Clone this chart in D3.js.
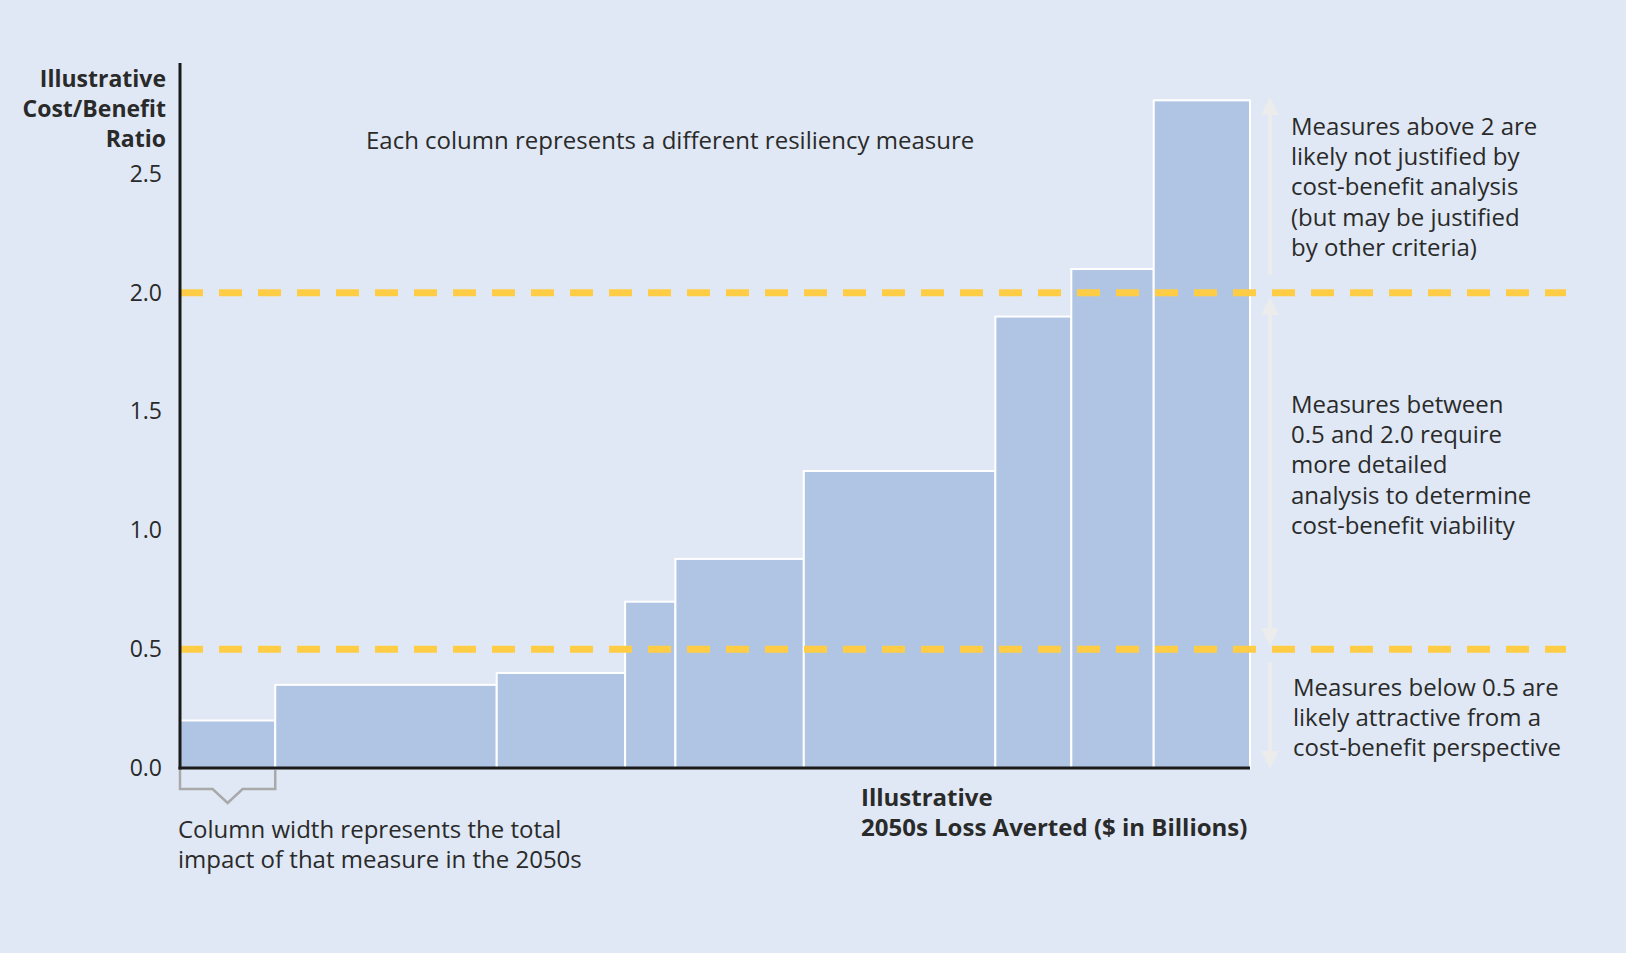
<!DOCTYPE html>
<html>
<head>
<meta charset="utf-8">
<script src="https://cdn.jsdelivr.net/npm/d3@7"></script>
<style>
  body { margin: 0; background: #dfe8f4; }
  svg { display: block; }
  text { font-family: "Open Sans", "Noto Sans", sans-serif; fill: #2a2a2a; }
</style>
</head>
<body>
<div id="chart"></div>
<script>
// column widths (illustrative loss averted) and cost/benefit ratios
let measureWidths = [0.89, 2.07, 1.20, 0.47, 1.20, 1.79, 0.71, 0.77, 0.90];
let ratios = [0.20, 0.35, 0.40, 0.70, 0.88, 1.25, 1.90, 2.10, 2.81];
let yTicks = [0.0, 0.5, 1.0, 1.5, 2.0, 2.5];
let thresholds = [0.5, 2.0];

let yTitle = ["Illustrative", "Cost/Benefit", "Ratio"];
let xTitle = ["Illustrative", "2050s Loss Averted ($ in Billions)"];
let topNote = "Each column represents a different resiliency measure";
let widthNote = ["Column width represents the total", "impact of that measure in the 2050s"];
let aboveNote = ["Measures above 2 are", "likely not justified by", "cost-benefit analysis", "(but may be justified", "by other criteria)"];
let betweenNote = ["Measures between", "0.5 and 2.0 require", "more detailed", "analysis to determine", "cost-benefit viability"];
let belowNote = ["Measures below 0.5 are", "likely attractive from a", "cost-benefit perspective"];

let width = 1626;
let height = 953;
let fontSize = "24px";

let svg = d3.select("#chart")
    .append("svg")
    .attr("width", width)
    .attr("height", height);

svg.append("rect")
    .attr("width", width)
    .attr("height", height)
    .attr("fill", "#dfe8f4");

// cumulative column edges
let edges = [0];
for (let i = 0; i < measureWidths.length; ++i) {
    edges.push(edges[i] + measureWidths[i]);
}
let bars = ratios.map((r, i) => ({ x0: edges[i], x1: edges[i + 1], r: r }));

let x = d3.scaleLinear()
    .domain([0, edges[edges.length - 1]])
    .range([180, 1250]);

let y = d3.scaleLinear()
    .domain([0, 2.5])
    .range([768, 174]);

// columns
svg.selectAll(".bar")
    .data(bars)
    .enter().append("rect")
    .attr("class", "bar")
    .attr("x", d => x(d.x0))
    .attr("y", d => y(d.r))
    .attr("width", d => x(d.x1) - x(d.x0))
    .attr("height", d => y(0) - y(d.r))
    .attr("fill", "#b0c5e4")
    .attr("stroke", "#ffffff")
    .attr("stroke-width", 2);

// threshold lines
svg.selectAll(".threshold")
    .data(thresholds)
    .enter().append("line")
    .attr("class", "threshold")
    .attr("x1", x(0))
    .attr("x2", 1566)
    .attr("y1", d => y(d))
    .attr("y2", d => y(d))
    .attr("stroke", "#ffcd45")
    .attr("stroke-width", 7)
    .attr("stroke-dasharray", "23,16");

// y axis labels
let yAxis = d3.axisLeft(y)
    .tickValues(yTicks)
    .tickSize(0)
    .tickPadding(18)
    .tickFormat(d3.format(".1f"));

let gy = svg.append("g")
    .attr("transform", "translate(" + x(0) + ",0)")
    .call(yAxis);
gy.select(".domain").remove();
gy.selectAll("text")
    .style("font-size", "23px")
    .style("font-family", "'Open Sans', sans-serif")
    .attr("fill", "#2a2a2a");

// axis lines
svg.append("line")
    .attr("x1", x(0)).attr("x2", x(0))
    .attr("y1", 63).attr("y2", y(0) + 1.5)
    .attr("stroke", "#1a1a1a").attr("stroke-width", 3);
svg.append("line")
    .attr("x1", x(0) - 1.5).attr("x2", x(edges[edges.length - 1]))
    .attr("y1", y(0)).attr("y2", y(0))
    .attr("stroke", "#1a1a1a").attr("stroke-width", 3);

// y title
svg.append("text")
    .attr("text-anchor", "end")
    .style("font-size", "23px")
    .style("font-weight", "bold")
    .selectAll("tspan")
    .data(yTitle)
    .enter().append("tspan")
    .attr("x", 166)
    .attr("y", (d, i) => 87 + i * 30)
    .text(d => d);

// top note
svg.append("text")
    .attr("x", 366)
    .attr("y", 149)
    .style("font-size", fontSize)
    .text(topNote);

// bracket under first column
let bx0 = x(edges[0]), bx1 = x(edges[1]), bmid = (bx0 + bx1) / 2;
svg.append("path")
    .attr("d", d3.line()([
        [bx0, 770], [bx0, 789], [bmid - 15, 789], [bmid, 803],
        [bmid + 15, 789], [bx1, 789], [bx1, 770]
    ]))
    .attr("fill", "none")
    .attr("stroke", "#a9a9a9")
    .attr("stroke-width", 2.5);

svg.append("text")
    .style("font-size", fontSize)
    .selectAll("tspan")
    .data(widthNote)
    .enter().append("tspan")
    .attr("x", 178)
    .attr("y", (d, i) => 838 + i * 30)
    .text(d => d);

// x title
svg.append("text")
    .style("font-size", "24px")
    .style("font-weight", "bold")
    .selectAll("tspan")
    .data(xTitle)
    .enter().append("tspan")
    .attr("x", 861)
    .attr("y", (d, i) => 806 + i * 30)
    .text(d => d);

// side arrows
let defs = svg.append("defs");
defs.append("marker")
    .attr("id", "head")
    .attr("viewBox", "0 0 10 10")
    .attr("refX", 5).attr("refY", 5)
    .attr("markerWidth", 4.5).attr("markerHeight", 4.5)
    .attr("orient", "auto-start-reverse")
    .append("path")
    .attr("d", "M0,0 L10,5 L0,10 Z")
    .attr("fill", "#ececec");

let arrowX = 1270;
let arrows = [
    { y1: 275, y2: 106, start: false, end: true },
    { y1: 306, y2: 637, start: true, end: true },
    { y1: 662, y2: 760, start: false, end: true }
];
svg.selectAll(".arrow")
    .data(arrows)
    .enter().append("line")
    .attr("class", "arrow")
    .attr("x1", arrowX).attr("x2", arrowX)
    .attr("y1", d => d.y1).attr("y2", d => d.y2)
    .attr("stroke", "#ececec")
    .attr("stroke-width", 4)
    .attr("marker-start", d => d.start ? "url(#head)" : null)
    .attr("marker-end", d => d.end ? "url(#head)" : null);

// side notes
function addNote(lines, x0, y0) {
    svg.append("text")
        .style("font-size", fontSize)
        .selectAll("tspan")
        .data(lines)
        .enter().append("tspan")
        .attr("x", x0)
        .attr("y", (d, i) => y0 + i * 30.2)
        .text(d => d);
}
addNote(aboveNote, 1291, 135);
addNote(betweenNote, 1291, 413);
addNote(belowNote, 1293, 696);
</script>
</body>
</html>
